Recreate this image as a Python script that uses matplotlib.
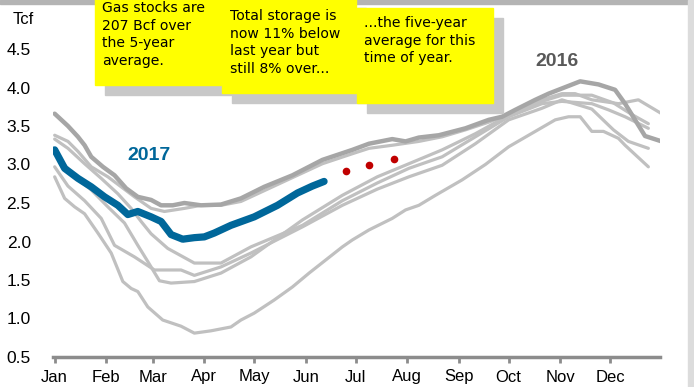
import matplotlib
matplotlib.use("Agg")
import matplotlib.pyplot as plt
from matplotlib.patches import Rectangle

# ---- data (day of year, Tcf) ----
d2017 = [0, 6, 14, 22, 30, 38, 44, 50, 58, 64, 70, 77, 84, 90, 96, 106, 120, 134, 146, 155, 162]
v2017 = [3.19, 2.95, 2.82, 2.71, 2.58, 2.47, 2.35, 2.39, 2.32, 2.26, 2.09, 2.03, 2.05, 2.06, 2.11, 2.21, 2.32, 2.47, 2.63, 2.72, 2.78]

d2016 = [0, 8, 14, 18, 22, 29, 36, 43, 50, 58, 64, 71, 78, 88, 100, 112, 126, 143, 161, 179, 189, 203, 211, 219, 231, 247, 261, 269, 277, 289, 297, 316, 327, 337, 343, 349, 355, 365]
v2016 = [3.66, 3.50, 3.36, 3.25, 3.10, 2.97, 2.86, 2.69, 2.58, 2.54, 2.47, 2.47, 2.50, 2.47, 2.48, 2.56, 2.71, 2.86, 3.06, 3.19, 3.27, 3.33, 3.30, 3.35, 3.38, 3.47, 3.58, 3.62, 3.71, 3.84, 3.92, 4.08, 4.04, 3.97, 3.79, 3.58, 3.37, 3.30]

dA = [0, 8, 14, 22, 32, 40, 48, 58, 66, 78, 88, 100, 112, 126, 143, 161, 179, 189, 203, 219, 233, 247, 261, 274, 293, 305, 323, 336, 347, 357]
vA = [3.38, 3.30, 3.17, 2.97, 2.84, 2.71, 2.58, 2.43, 2.39, 2.43, 2.47, 2.47, 2.52, 2.66, 2.83, 3.01, 3.14, 3.21, 3.25, 3.30, 3.36, 3.45, 3.55, 3.66, 3.82, 3.90, 3.90, 3.80, 3.65, 3.53]

dB = [0, 8, 18, 28, 38, 46, 52, 58, 68, 84, 100, 118, 149, 173, 194, 213, 233, 253, 273, 293, 305, 323, 333, 343, 357]
vB = [3.33, 3.21, 3.01, 2.82, 2.62, 2.43, 2.26, 2.10, 1.91, 1.72, 1.72, 1.93, 2.21, 2.53, 2.76, 2.95, 3.10, 3.36, 3.62, 3.79, 3.82, 3.79, 3.71, 3.62, 3.47]

dC = [0, 8, 18, 28, 36, 48, 60, 76, 84, 100, 118, 149, 173, 194, 213, 233, 253, 273, 293, 305, 323, 336, 345, 357]
vC = [2.97, 2.72, 2.53, 2.30, 1.95, 1.80, 1.63, 1.63, 1.56, 1.67, 1.85, 2.19, 2.47, 2.68, 2.84, 2.99, 3.27, 3.58, 3.73, 3.84, 3.72, 3.45, 3.30, 3.21]

dD = [0, 6, 12, 18, 26, 34, 41, 46, 50, 56, 65, 76, 84, 94, 106, 112, 120, 132, 143, 153, 163, 173, 179, 189, 203, 211, 219, 229, 245, 259, 273, 289, 301, 309, 316, 323, 330, 339, 343, 357]
vD = [2.84, 2.56, 2.45, 2.36, 2.11, 1.85, 1.48, 1.39, 1.35, 1.15, 0.98, 0.90, 0.81, 0.84, 0.89, 0.98, 1.07, 1.24, 1.41, 1.59, 1.76, 1.93, 2.02, 2.15, 2.30, 2.41, 2.47, 2.60, 2.80, 3.00, 3.23, 3.43, 3.58, 3.62, 3.62, 3.43, 3.43, 3.34, 3.25, 2.97]

dE = [0, 12, 22, 32, 42, 50, 56, 63, 70, 84, 100, 118, 149, 173, 194, 213, 233, 253, 273, 293, 305, 313, 323, 339, 351, 365]
vE = [3.15, 2.84, 2.67, 2.45, 2.24, 1.95, 1.74, 1.49, 1.46, 1.48, 1.59, 1.80, 2.28, 2.60, 2.84, 3.01, 3.19, 3.40, 3.64, 3.84, 3.92, 3.92, 3.84, 3.79, 3.84, 3.66]

d_proj = [175, 189, 204]
v_proj = [2.92, 3.00, 3.07]

month_days = [0, 31, 59, 90, 120, 151, 181, 212, 243, 273, 304, 334]
month_labels = ["Jan", "Feb", "Mar", "Apr", "May", "Jun", "Jul", "Aug", "Sep", "Oct", "Nov", "Dec"]
y_ticks = [0.5, 1.0, 1.5, 2.0, 2.5, 3.0, 3.5, 4.0, 4.5]

notes = [
    "Gas stocks are\n207 Bcf over\nthe 5-year\naverage.",
    "Total storage is\nnow 11% below\nlast year but\nstill 8% over...",
    "...the five-year\naverage for this\ntime of year.",
]

# ---- figure ----
W, H = 694, 387
fig = plt.figure(figsize=(W / 100, H / 100), dpi=100)
fig.patch.set_facecolor("white")

def fx(px):
    return px / W

def fy(py):
    return 1 - py / H

ax = fig.add_axes([fx(53), fy(357), fx(660) - fx(53), fy(49) - fy(357)])
ax.set_xlim(-1, 364)
ax.set_ylim(0.5, 4.5)
ax.set_facecolor("none")

light = "#c0c0c0"
for d, v in [(dD, vD), (dC, vC), (dB, vB), (dE, vE), (dA, vA)]:
    ax.plot(d, v, color=light, lw=2.3, solid_capstyle="round", solid_joinstyle="round", zorder=2)
ax.plot(d2016, v2016, color="#a6a6a6", lw=3.2, solid_capstyle="round", solid_joinstyle="round", zorder=3)
ax.plot(d2017, v2017, color="#00679a", lw=5.2, solid_capstyle="round", solid_joinstyle="round", zorder=4)
ax.plot(d_proj, v_proj, "o", color="#c00000", ms=5.5, mec="none", zorder=4)

lab = dict(family="Liberation Sans", fontweight="bold", fontsize=14)
ax.text(57, 3.06, "2017", color="#00679a", ha="center", va="baseline", **lab)
ax.text(302, 4.28, "2016", color="#595959", ha="center", va="baseline", **lab)

for s in ["left", "right", "top"]:
    ax.spines[s].set_visible(False)
ax.spines["bottom"].set_color("#8c8c8c")
ax.spines["bottom"].set_linewidth(2.5)
ax.set_xticks(month_days)
ax.set_xticklabels(month_labels, family="Liberation Sans", fontsize=12)
ax.tick_params(axis="x", length=4, width=2, color="#8c8c8c", pad=5, direction="out")
ax.set_yticks(y_ticks)
ax.set_yticklabels([f"{t:.1f}" for t in y_ticks], family="Liberation Sans", fontsize=12.5)
ax.tick_params(axis="y", length=0, pad=16)

fig.text(fx(13), fy(24), "Tcf", family="Liberation Sans", fontsize=12, va="baseline")

# ---- note boxes with shadows ----
boxes = [(95, -2, 221, 85), (222, -2, 356, 93), (357, 8, 493, 103)]
text_pos = [(102, 1), (230, 9), (364, 16)]
for (x0, y0, x1, y1), note, (tx, ty) in zip(boxes, notes, text_pos):
    fig.patches.append(Rectangle((fx(x0 + 10), fy(y1 + 10)), fx(x1 - x0), fy(y0) - fy(y1),
                                 transform=fig.transFigure, color="#c8c8c8", zorder=5))
    fig.patches.append(Rectangle((fx(x0), fy(y1)), fx(x1 - x0), fy(y0) - fy(y1),
                                 transform=fig.transFigure, color="#ffff00", zorder=6))
    fig.text(fx(tx), fy(ty), note, family="DejaVu Sans", fontsize=10.1, va="top",
             linespacing=1.33, zorder=7, color="black")

# ---- frame lines ----
fig.patches.append(Rectangle((0, fy(4)), 1, fy(0) - fy(4), transform=fig.transFigure,
                             color="#b4b4b4", zorder=4))
fig.patches.append(Rectangle((fx(688), 0), fx(6), 1, transform=fig.transFigure,
                             color="#dcdcdc", zorder=4))

fig.savefig("out.png", dpi=100)
